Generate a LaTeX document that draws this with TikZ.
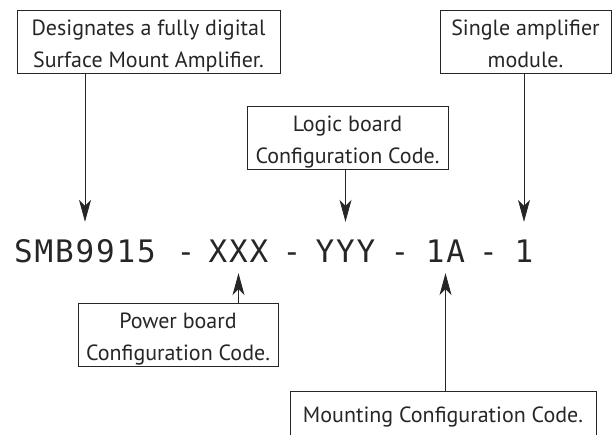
\documentclass[tikz,border=0pt]{standalone}
\usepackage{fontspec}
\usepackage{xcolor}
\usepackage{tikz}
\usetikzlibrary{arrows.meta}
\newfontfamily\boxfont{PT Sans}
\newfontfamily\codefont[LetterSpace=6]{DejaVu Sans Mono}
\definecolor{ink}{rgb}{0.15,0.15,0.15}

\begin{document}
\begin{tikzpicture}[
x = 1pt, y = -1pt,
descbox/.style={rectangle, align = center, draw = ink, line width = 0.8pt,
text = ink, inner sep = 0pt, anchor = north, font = \boxfont\fontsize{22}{32}\selectfont,
text height = 57pt, text depth = 6pt},
onebox/.style={descbox, text height = 31pt, text depth = 32pt},
codepart/.style={anchor = base, text = ink, inner xsep = 0pt, inner ysep = 11pt,
font = \codefont\fontsize{31}{31}\selectfont, text height = 29pt, text depth = 0pt},
modarr/.style={-{Stealth[length = 22pt, width = 12pt, inset = 6pt]}, line width = 0.8pt, draw = ink}]

\useasboundingbox (0,0) rectangle (612,435);

% part number
\node[codepart] (smb) at (85,262) {SMB9915};
\node[codepart] (d1) at (186,262) {-};
\node[codepart] (xxx) at (238.5,262) {XXX};
\node[codepart] (d2) at (292,262) {-};
\node[codepart] (yyy) at (345.5,262) {YYY};
\node[codepart] (d3) at (400,262) {-};
\node[codepart] (ia) at (445.5,262) {1A};
\node[codepart] (d4) at (488.5,262) {-};
\node[codepart] (one) at (524,262) {1};

% explanations
\node[descbox, minimum width = 263pt] (desig) at (148.5,10) {Designates a fully digital\\Surface Mount Amplifier.};
\node[descbox, minimum width = 171pt] (single) at (525.5,10) {Single amplifier\\module.};
\node[descbox, minimum width = 201pt] (logic) at (347.5,106) {Logic board\\Configuration Code.};
\node[descbox, minimum width = 200pt] (power) at (178,303) {Power board\\Configuration Code.};
\node[onebox, minimum width = 306pt] (mount) at (443,391) {Mounting Configuration Code.};

\draw[modarr] (desig.south -| smb.north) -- (smb.north);
\draw[modarr] (logic.south -| yyy.north) -- (yyy.north);
\draw[modarr] (single.south -| one.north) -- (one.north);
\draw[modarr] (power.north -| xxx.south) -- (xxx.south);
\draw[modarr] (mount.north -| ia.south) -- (ia.south);

\end{tikzpicture}
\end{document}
